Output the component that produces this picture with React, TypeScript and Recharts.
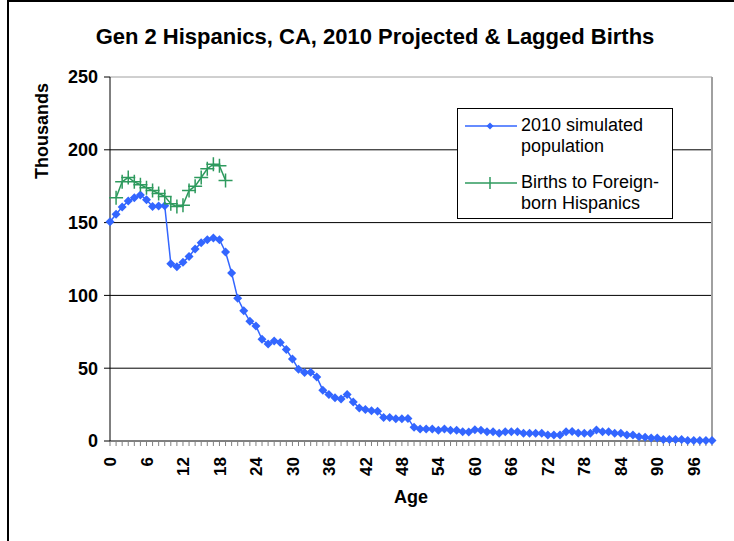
import { Label, Line, LineChart, ReferenceLine, XAxis, YAxis } from "recharts";

const FONT = "'Liberation Sans', Arial, sans-serif";
const BLUE = "#3366FF";
const GREEN = "#2E9A5E";

const title = "Gen 2 Hispanics, CA, 2010 Projected & Lagged Births";
const popName = "2010 simulated population";
const birthsName = "Births to Foreign-born Hispanics";

// ages 0..99
const ages = Array.from({ length: 100 }, (_, i) => i);

// thousands
const simulatedPop = [
  150.6, 155.7, 160.7, 164.8, 167, 169, 165.7, 161, 161.4, 161.6,
  121.8, 119.7, 122.7, 126.8, 131.9, 136.2, 138.3, 139.4, 138.3, 129.8,
  115.4, 98, 89.5, 82.2, 79, 69.9, 66.6, 68.7, 67.6, 62.8,
  56.4, 49.3, 47, 47.3, 44, 34.9, 32, 29.7, 28.8, 32,
  26.8, 22.6, 21.7, 20.8, 20.5, 16.2, 16.2, 15.3, 15.3, 15.5,
  9.4, 8.2, 8.2, 8.2, 7.3, 8.2, 7.3, 7.3, 6.4, 6.2,
  7.7, 7.3, 6.4, 6.4, 5.3, 6.4, 6.4, 6.4, 5.3, 5.3,
  5.3, 5.3, 4.1, 4.1, 4.1, 6.4, 6.6, 5.5, 5.3, 5.3,
  7.5, 6.4, 6.4, 5.3, 5.3, 4.1, 4.1, 3, 2.5, 2,
  2, 1.1, 1.1, 1.1, 1.1, 0.3, 0.3, 0.3, 0.3, 0.3,
];

const birthsForeignBorn = [
  null, 167, 178, 181, 178, 176, 174, 172, 170, 168,
  163, 161, 162, 172, 175, 181, 187, 190, 189, 179,
];

const yTicks = [0, 50, 100, 150, 200, 250];
const gridValues = [50, 100, 150, 200];

const data = ages.map((age, i) => ({
  age,
  pop: simulatedPop[i],
  births: birthsForeignBorn[i] ?? null,
}));

const Diamond = (props: any) => {
  const { cx, cy, index } = props;
  if (cx == null || cy == null) return <g key={`d${index}`} />;
  return (
    <path
      key={`d${index}`}
      d={`M${cx},${cy - 4.5}L${cx + 4.5},${cy}L${cx},${cy + 4.5}L${cx - 4.5},${cy}Z`}
      fill={BLUE}
    />
  );
};

const Cross = (props: any) => {
  const { cx, cy, index } = props;
  if (cx == null || cy == null) return <g key={`c${index}`} />;
  return (
    <path
      key={`c${index}`}
      d={`M${cx - 7},${cy}H${cx + 7}M${cx},${cy - 7}V${cy + 7}`}
      stroke={GREEN}
      strokeWidth={1.5}
      fill="none"
    />
  );
};

const XTick = (props: any) => {
  const { x, y, payload } = props;
  if (payload.value % 6 !== 0) return <g />;
  return (
    <text
      transform={`translate(${x},${y + 9}) rotate(-90)`}
      textAnchor="end"
      dy="0.36em"
      fontSize={17}
      fontWeight="bold"
      fontFamily={FONT}
      fill="#000"
    >
      {payload.value}
    </text>
  );
};

const YTick = (props: any) => {
  const { x, y, payload } = props;
  return (
    <text
      x={x - 4}
      y={y}
      dy="0.36em"
      textAnchor="end"
      fontSize={18}
      fontWeight="bold"
      fontFamily={FONT}
      fill="#000"
    >
      {payload.value}
    </text>
  );
};

const LegendBox = () => (
  <div
    style={{
      position: "absolute",
      left: 457,
      top: 108,
      width: 216,
      height: 111,
      boxSizing: "border-box",
      border: "1px solid #000",
      background: "#fff",
      fontFamily: FONT,
      fontSize: 18,
      lineHeight: "21px",
      padding: "6px 0 0 7px",
    }}
  >
    {[
      { name: popName, color: BLUE, mark: "diamond" },
      { name: birthsName, color: GREEN, mark: "cross" },
    ].map((item) => (
      <div key={item.name} style={{ display: "flex", marginBottom: 15 }}>
        <svg width={54} height={21} style={{ flex: "none" }}>
          <line x1={0} y1={11} x2={52} y2={11} stroke={item.color} strokeWidth={1.5} />
          {item.mark === "diamond" ? (
            <path d="M25,7.5L28.5,11L25,14.5L21.5,11Z" fill={item.color} />
          ) : (
            <path d="M25,5V17" stroke={item.color} strokeWidth={1.5} />
          )}
        </svg>
        <div style={{ width: 150, marginLeft: 2 }}>{item.name}</div>
      </div>
    ))}
  </div>
);

export default function App() {
  return (
    <div
      style={{
        position: "absolute",
        left: 0,
        top: 0,
        width: 734,
        height: 541,
        overflow: "hidden",
        background: "#fff",
      }}
    >
      <div
        style={{
          position: "absolute",
          left: 7,
          top: 0,
          width: 760,
          height: 600,
          border: "2px solid #000",
        }}
      />
      <div
        style={{
          position: "absolute",
          left: 8,
          width: 734,
          top: 25,
          textAlign: "center",
          fontFamily: FONT,
          fontWeight: "bold",
          fontSize: 22,
          lineHeight: "24px",
        }}
      >
        {title}
      </div>
      <div style={{ position: "absolute", left: 0, top: 0 }}>
        <LineChart
          width={734}
          height={541}
          data={data}
          margin={{ top: 77, right: 22, bottom: 50, left: 50 }}
        >
          <XAxis
            dataKey="age"
            interval={0}
            tick={<XTick />}
            tickSize={5}
            tickLine={{ stroke: "#808080" }}
            axisLine={{ stroke: "#000" }}
            height={50}
          >
            <Label
              content={(p: any) => (
                <text
                  x={p.viewBox.x + p.viewBox.width / 2}
                  y={503}
                  textAnchor="middle"
                  fontSize={18}
                  fontWeight="bold"
                  fontFamily={FONT}
                >
                  Age
                </text>
              )}
            />
          </XAxis>
          <YAxis
            domain={[0, 250]}
            ticks={yTicks}
            interval={0}
            tick={<YTick />}
            tickSize={6}
            tickLine={{ stroke: "#000" }}
            axisLine={{ stroke: "#000" }}
            width={60}
          >
            <Label
              content={() => (
                <text
                  transform="translate(48,131) rotate(-90)"
                  textAnchor="middle"
                  fontSize={18}
                  fontWeight="bold"
                  fontFamily={FONT}
                >
                  Thousands
                </text>
              )}
            />
          </YAxis>
          {gridValues.map((v) => (
            <ReferenceLine key={v} y={v} stroke="#000" strokeWidth={1} />
          ))}
          <ReferenceLine y={250} stroke="#a0a0a0" strokeWidth={1} />
          <ReferenceLine x={99} stroke="#a0a0a0" strokeWidth={2} />
          <Line
            dataKey="pop"
            name={popName}
            stroke={BLUE}
            strokeWidth={1.5}
            dot={Diamond}
            activeDot={false}
            isAnimationActive={false}
            type="linear"
          />
          <Line
            dataKey="births"
            name={birthsName}
            stroke={GREEN}
            strokeWidth={1.5}
            dot={Cross}
            activeDot={false}
            connectNulls={false}
            isAnimationActive={false}
            type="linear"
          />
        </LineChart>
      </div>
      <LegendBox />
    </div>
  );
}
